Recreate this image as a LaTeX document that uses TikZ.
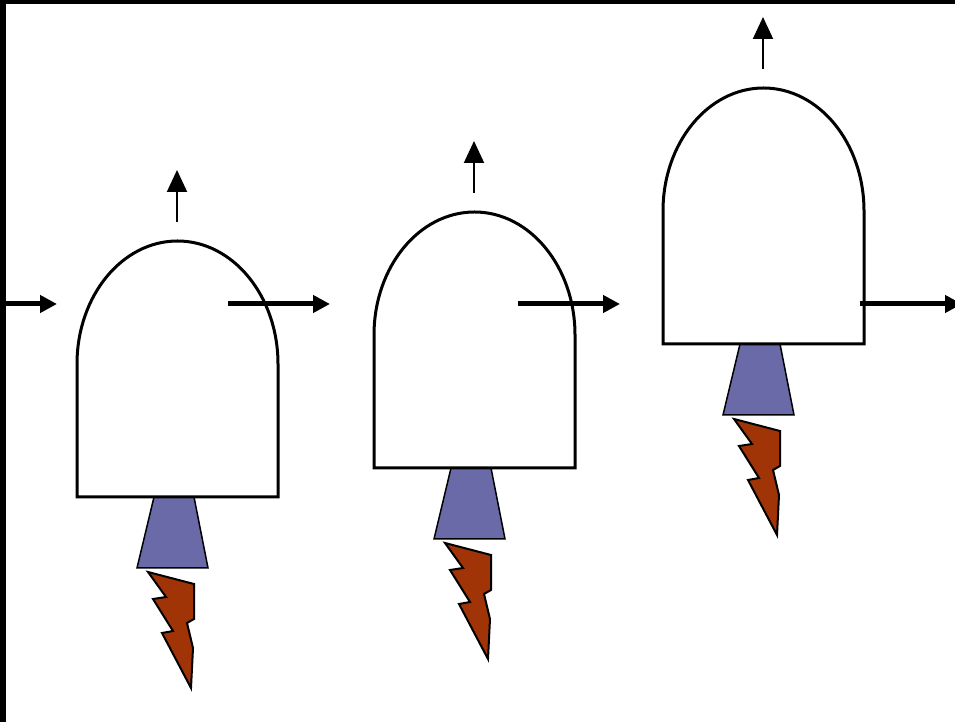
\documentclass[tikz,border=0pt]{standalone}
\usetikzlibrary{arrows.meta}
\definecolor{nozzle}{RGB}{106,106,168}
\definecolor{flame}{RGB}{160,52,6}

\begin{document}
\begin{tikzpicture}[x=1pt,y=1pt]
\useasboundingbox (0,0) rectangle (955,722);
\clip (0,0) rectangle (955,722);
\fill[black] (0,718) rectangle (955,722); %top strip
\fill[black] (0,0) rectangle (6,722); %left strip

%the three rockets, each shifted to its own bottom-left corner
\foreach \bx/\by in {77/225, 374/254, 663/378}{
\begin{scope}[shift={(\bx,\by)}]
\filldraw [fill=nozzle, draw=black, line width=1.5pt] (77,0) -- (117,0) -- (131,-71) -- (60,-71) -- cycle; %nozzle
\filldraw [fill=flame, draw=black, line width=2pt, line join=miter] (71,-75) -- (117,-87) -- (117,-122) -- (110,-126) -- (116,-151) -- (114,-191) -- (85,-136) -- (96,-134) -- (76,-102) -- (89,-100) -- cycle; %bolt
\filldraw [fill=white, draw=black, line width=3pt] (0,0) -- (0,133) arc[start angle=180, end angle=0, x radius=100.5pt, y radius=123pt] -- (201,0) -- cycle; %body with dome
\draw [-{Triangle[length=22pt,width=20pt]}, line width=2pt] (100,275) -- (100,327); %up
\end{scope}
}

%horizontal arrows, all at one height
\draw [-{Triangle[length=17pt,width=17pt]}, line width=5pt] (6,418) -- (57,418);
\draw [-{Triangle[length=17pt,width=17pt]}, line width=5pt] (228,418) -- (330,418);
\draw [-{Triangle[length=17pt,width=17pt]}, line width=5pt] (518,418) -- (620,418);
\draw [-{Triangle[length=17pt,width=17pt]}, line width=5pt] (860,418) -- (962,418);
\end{tikzpicture}
\end{document}
